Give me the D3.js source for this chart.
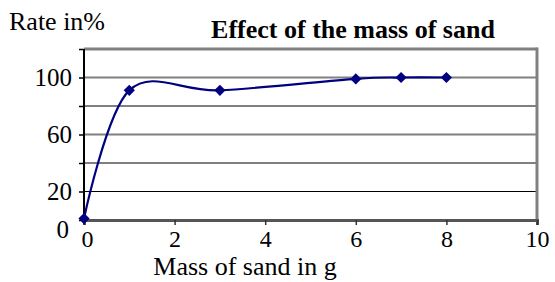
<!DOCTYPE html>
<html>
<head>
<meta charset="utf-8">
<script src="https://cdn.jsdelivr.net/npm/d3@7"></script>
<style>
  body { margin: 0; background: #fff; }
  text { font-family: "Liberation Serif", "Times New Roman", serif; fill: #000; }
</style>
</head>
<body>
<div class="chart"></div>
<script>
var svgWidth = 555;
var svgHeight = 282;

// data
var massValues = [0, 1, 3, 6, 7, 8];
var rateValues = [1, 91, 91, 99, 100, 100];
var xTicks = [0, 2, 4, 6, 8, 10];
var yTicks = [0, 20, 40, 60, 80, 100, 120];
var yLabels = [0, 20, 60, 100];

var margin = { top: 49, right: 18, bottom: 62, left: 84 };
var width = svgWidth - margin.left - margin.right;
var height = svgHeight - margin.top - margin.bottom;

var svg = d3.select(".chart")
  .append("svg")
  .attr("width", svgWidth)
  .attr("height", svgHeight);

var chartGroup = svg.append("g")
  .attr("transform", `translate(${margin.left}, ${margin.top})`);

var x = d3.scaleLinear().domain([0, 10]).range([0, width]);
var y = d3.scaleLinear().domain([0, 120]).range([height, 0]);

// gridlines (labelled ones grey, others black)
chartGroup.selectAll(".grid")
  .data(yTicks.filter(d => d > 0 && d < 120))
  .enter()
  .append("line")
  .attr("x1", 0)
  .attr("x2", width)
  .attr("y1", d => y(d))
  .attr("y2", d => y(d))
  .attr("stroke", d => (d == 100 || d == 60) ? "#808080" : "#000")
  .attr("stroke-width", d => (d == 100 || d == 60) ? 2 : 1);

// frame top and right
chartGroup.append("line")
  .attr("x1", 0).attr("x2", width)
  .attr("y1", y(120)).attr("y2", y(120))
  .attr("stroke", "#808080").attr("stroke-width", 3);
chartGroup.append("line")
  .attr("x1", width).attr("x2", width)
  .attr("y1", y(120) - 1.5).attr("y2", height)
  .attr("stroke", "#808080").attr("stroke-width", 3);

// axes
var leftAxis = d3.axisLeft(y)
  .tickValues(yTicks)
  .tickSize(5)
  .tickPadding(7)
  .tickFormat(d => yLabels.indexOf(d) >= 0 ? d : "");
var yAxisG = chartGroup.append("g").call(leftAxis)
  .attr("font-family", "Liberation Serif")
  .attr("font-size", 25);
yAxisG.select(".domain").remove();
yAxisG.append("line")
  .attr("x1", 0).attr("x2", 0)
  .attr("y1", y(120)).attr("y2", height)
  .attr("stroke", "#000").attr("stroke-width", 2);
yAxisG.selectAll(".tick line").attr("stroke", "#000").attr("stroke-width", 1.5);
yAxisG.selectAll(".tick text")
  .attr("fill", "#000")
  .attr("dx", d => d == 0 ? "-3px" : 0)
  .attr("dy", d => d == 0 ? "0.68em" : "0.32em");

var bottomAxis = d3.axisBottom(x)
  .tickValues(xTicks)
  .tickSize(5)
  .tickPadding(5);
var xAxisG = chartGroup.append("g")
  .attr("transform", `translate(0, ${height})`)
  .call(bottomAxis)
  .attr("font-family", "Liberation Serif")
  .attr("font-size", 24);
xAxisG.select(".domain").attr("stroke", "#555").attr("stroke-width", 3);
xAxisG.selectAll(".tick line").attr("stroke", "#333").attr("stroke-width", 1.5);
xAxisG.selectAll(".tick text")
  .attr("fill", "#000")
  .attr("dx", d => d == 0 ? "3px" : 0);

// series
var points = massValues.map((m, i) => [m, rateValues[i]]);
var line = d3.line()
  .x(d => x(d[0]))
  .y(d => y(d[1]))
  .curve(d3.curveCardinal.tension(0));
chartGroup.append("path")
  .datum(points)
  .attr("d", line)
  .attr("fill", "none")
  .attr("stroke", "#000080")
  .attr("stroke-width", 2.2);

chartGroup.selectAll(".marker")
  .data(points)
  .enter()
  .append("path")
  .attr("d", d3.symbol(d3.symbolDiamond2, 80))
  .attr("transform", d => `translate(${x(d[0])}, ${y(d[1])})`)
  .attr("fill", "#000080");

// titles
svg.append("text")
  .attr("x", 353)
  .attr("y", 38)
  .attr("text-anchor", "middle")
  .attr("font-size", 26)
  .attr("font-weight", "bold")
  .text("Effect of the mass of sand");
svg.append("text")
  .attr("x", 9)
  .attr("y", 30)
  .attr("font-size", 26)
  .text("Rate in%");
svg.append("text")
  .attr("x", 245)
  .attr("y", 275)
  .attr("text-anchor", "middle")
  .attr("font-size", 26)
  .text("Mass of sand in g");
</script>
</body>
</html>
